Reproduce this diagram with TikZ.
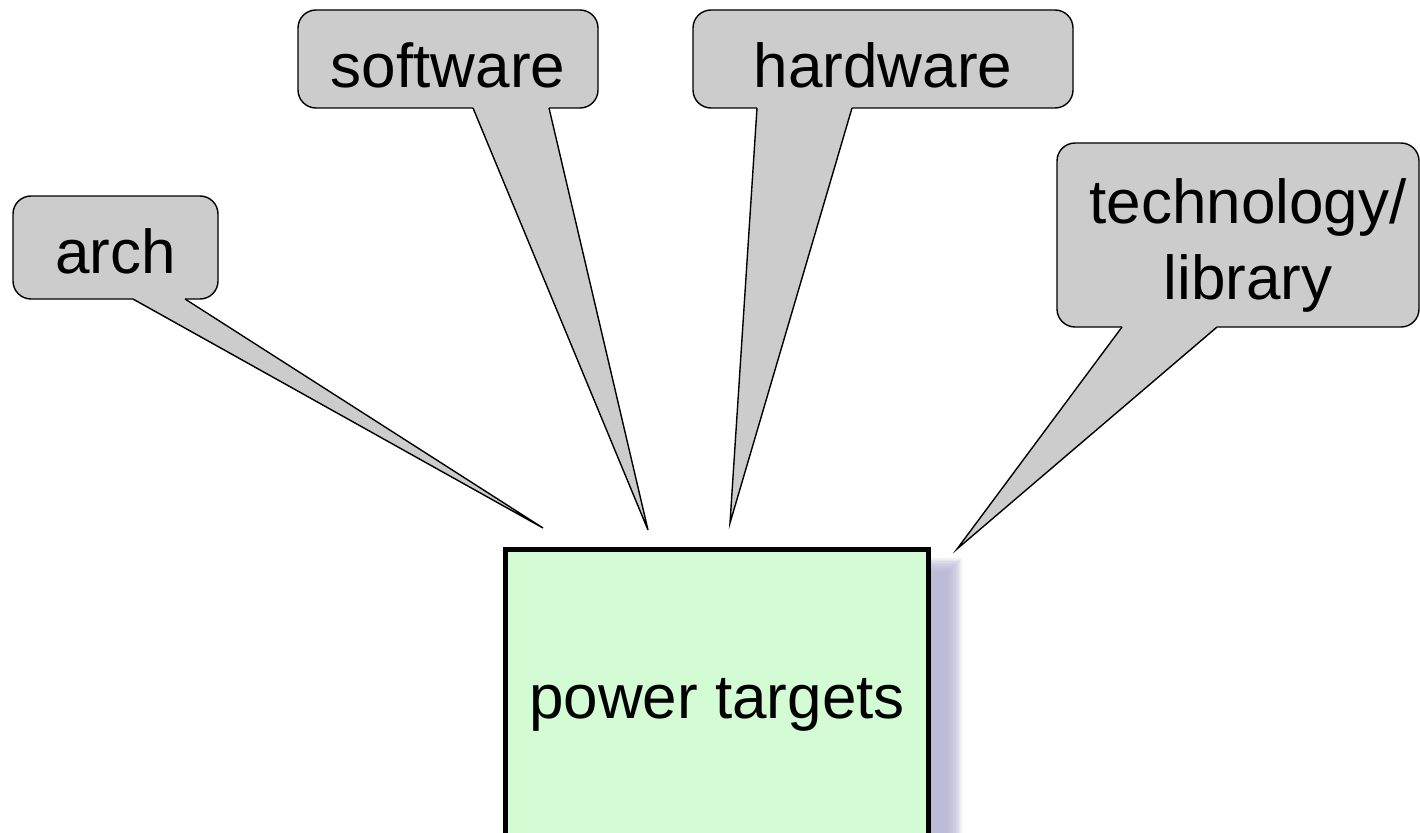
\documentclass[tikz,border=0pt]{standalone}
\usepackage{fontspec}
\setmainfont{Liberation Sans}
\definecolor{calloutgray}{HTML}{CCCCCC}
\definecolor{boxgreen}{HTML}{D4FCD4}
\definecolor{shadowblue}{HTML}{B4B4D4}
\tikzset{
  callout/.style={draw=black, line width=1.4pt, fill=calloutgray, rounded corners=18pt,
    inner sep=0pt, outer sep=0pt},
  bigtext/.style={font=\fontsize{62}{76}\selectfont, inner sep=0pt, anchor=base, align=center},
  tailfill/.style={fill=calloutgray},
  tailline/.style={draw=black, line width=1.4pt, line join=miter},
  targetbox/.style={draw=black, line width=5pt, fill=boxgreen, inner sep=0pt, outer sep=0pt},
}
\begin{document}
\begin{tikzpicture}[x=1pt,y=-1pt]
\useasboundingbox (0,0) rectangle (1420,832);
% blurred shadow of the target box
\foreach \k in {0,...,9} {
  \fill[shadowblue, opacity=0.2] (925,558+1.6*\k) rectangle (962-1.6*\k,840);
}
% target box
\node[targetbox, minimum width=423pt, minimum height=300pt, anchor=north west] (target) at (505.5,549.5) {};
\node[bigtext] (targettext) at (717,718) {power targets};
% callout boxes
\node[callout, minimum width=205pt, minimum height=103pt] (arch) at (115.5,247.5) {};
\node[callout, minimum width=300pt, minimum height=98pt] (software) at (448,59) {};
\node[callout, minimum width=380pt, minimum height=98pt] (hardware) at (883,59) {};
\node[callout, minimum width=362pt, minimum height=184pt] (tech) at (1238,235) {};
% tail tips
\coordinate (archtip) at (543,528);
\coordinate (softtip) at (648,530);
\coordinate (hardtip) at (730,523);
\coordinate (techtip) at (957,549);
% arch tail
\fill[tailfill] (133,300) -- (archtip) -- (185,300) -- (185,296) -- (133,296) -- cycle;
\draw[tailline] (133,299) -- (archtip) -- (185,299);
% software tail
\fill[tailfill] (473,109) -- (softtip) -- (549,109) -- (549,105) -- (473,105) -- cycle;
\draw[tailline] (473,108) -- (softtip) -- (549,108);
% hardware tail
\fill[tailfill] (757,109) -- (hardtip) -- (852,109) -- (852,105) -- (757,105) -- cycle;
\draw[tailline] (757,108) -- (hardtip) -- (852,108);
% technology tail
\fill[tailfill] (1122,328) -- (techtip) -- (1217,328) -- (1217,324) -- (1122,324) -- cycle;
\draw[tailline] (1122,327) -- (techtip) -- (1217,327);
% callout texts
\node[bigtext] (archtext) at (115.5,273) {arch};
\node[bigtext] (softtext) at (448,88) {software};
\node[bigtext] (hardtext) at (883,88) {hardware};
\node[bigtext] (techtext) at (1248,299) {technology/\\library};
\end{tikzpicture}
\end{document}
